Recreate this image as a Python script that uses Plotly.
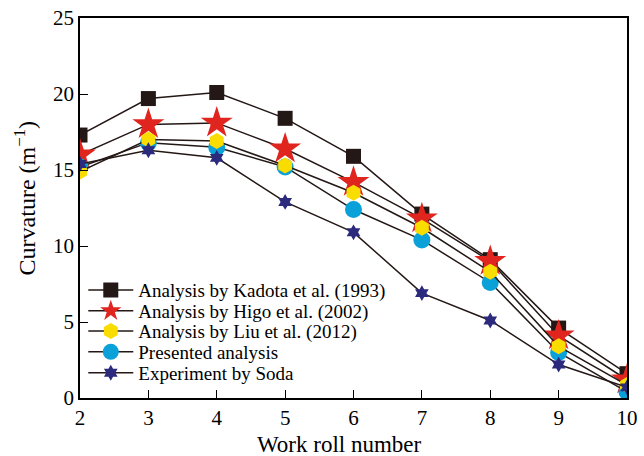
import plotly.graph_objects as go

# Work roll positions
rolls = [2, 3, 4, 5, 6, 7, 8, 9, 10]

# Curvature values (1/m) for each method
kadota = [17.3, 19.7, 20.1, 18.4, 15.9, 12.1, 9.1, 4.6, 1.6]
higo = [16.0, 18.0, 18.1, 16.4, 14.2, 11.8, 9.0, 4.1, 1.2]
liu = [14.9, 17.0, 16.9, 15.3, 13.5, 11.2, 8.3, 3.4, 0.85]
presented = [15.2, 16.8, 16.5, 15.2, 12.4, 10.4, 7.6, 3.0, 0.4]
experiment = [15.4, 16.3, 15.8, 12.9, 10.9, 6.9, 5.1, 2.2, 0.7]

line_col = "#231815"
font_family = "Liberation Serif, Times New Roman, serif"

series = [
    # name, values, symbol, colour, size, legend id
    ("Analysis by Kadota et al. (1993)", kadota, "square", "#231815", 15, "legend"),
    ("Analysis by Higo et al. (2002)", higo, "star", "#e0251f", 24, "legend2"),
    ("Presented analysis", presented, "circle", "#0aa0d8", 17, "legend4"),
    ("Analysis by Liu et al. (2012)", liu, "hexagon", "#f9dc00", 16, "legend3"),
    ("Experiment by Soda", experiment, "hexagram", "#2b2a7c", 12, "legend5"),
]

fig = go.Figure()
for name, vals, sym, col, size, leg in series:
    fig.add_trace(go.Scatter(
        x=rolls, y=vals, name=name, mode="lines+markers",
        line=dict(color=line_col, width=1.5),
        marker=dict(symbol=sym, color=col, size=size, line=dict(width=0)),
        legend=leg,
    ))

axis_common = dict(
    showline=True, linecolor="black", linewidth=1.5, mirror=True,
    ticks="inside", ticklen=8, tickwidth=1.3, tickcolor="black",
    showgrid=False, zeroline=False, automargin=False,
    tickfont=dict(family=font_family, size=21, color="black"),
)

# One legend box per entry so the rows sit close together
legend_rows = {"legend": 0.284, "legend2": 0.229, "legend3": 0.176,
               "legend4": 0.121, "legend5": 0.066}
legend_layout = {}
for key, ypos in legend_rows.items():
    legend_layout[key] = dict(
        x=0.006, y=ypos, xanchor="left", yanchor="middle",
        bgcolor="rgba(0,0,0,0)", borderwidth=0,
        font=dict(family=font_family, size=19, color="black"),
        itemwidth=45,
    )

fig.update_layout(
    width=644, height=456,
    margin=dict(l=80, r=17, t=18, b=58, autoexpand=False),
    paper_bgcolor="white", plot_bgcolor="white",
    font=dict(family=font_family, color="black"),
    showlegend=True,
    xaxis=dict(range=[2, 10], dtick=1, tick0=2, **axis_common),
    yaxis=dict(range=[0, 25], dtick=5, **axis_common),
    annotations=[
        dict(text="Work roll number", xref="paper", yref="paper",
             x=0.475, y=-0.085, xanchor="center", yanchor="top", showarrow=False,
             font=dict(family=font_family, size=23, color="black")),
        dict(text="Curvature (m<sup>\u22121</sup>)", xref="paper", yref="paper",
             x=-0.1, y=0.526, xanchor="center", yanchor="middle", showarrow=False,
             textangle=-90,
             font=dict(family=font_family, size=24, color="black")),
    ],
    **legend_layout,
)

fig.write_html("out.html")
